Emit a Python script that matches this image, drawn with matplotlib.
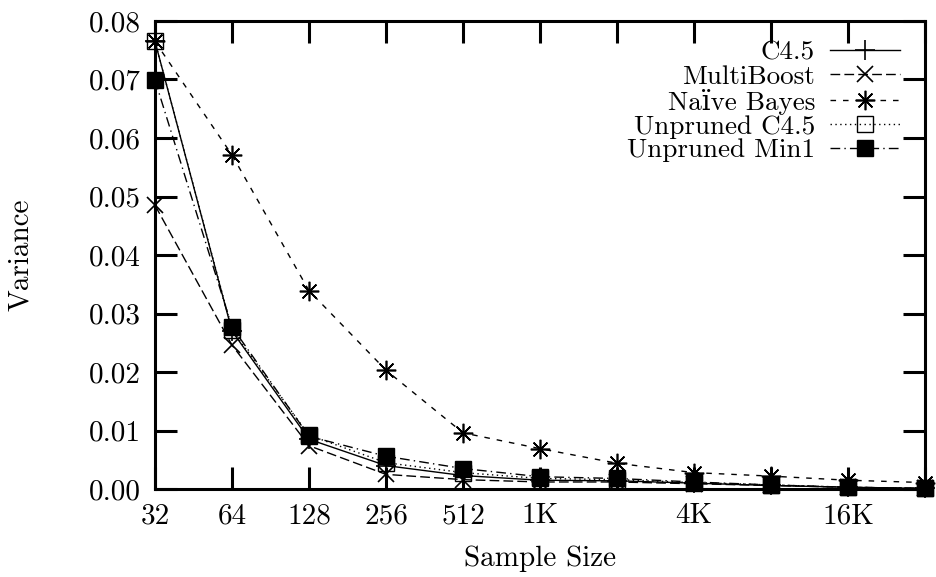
import matplotlib
matplotlib.use("Agg")
import matplotlib.pyplot as plt
from matplotlib.ticker import FixedLocator, FixedFormatter, FormatStrFormatter

sizes = [32, 64, 128, 256, 512, 1024, 2048, 4096, 8192, 16384, 32768]
tick_labels = ['32', '64', '128', '256', '512', '1K', '', '4K', '', '16K', '']

c45 = [0.0765, 0.0270, 0.0085, 0.0040, 0.0023, 0.0015, 0.0014, 0.0010, 0.0006, 0.0003, 0.0001]
multiboost = [0.0485, 0.0246, 0.0074, 0.0025, 0.0016, 0.0012, 0.0012, 0.0009, 0.0006, 0.0003, 0.0001]
naive_bayes = [0.0765, 0.0571, 0.0339, 0.0203, 0.0096, 0.0069, 0.0044, 0.0028, 0.0022, 0.0015, 0.0011]
unpruned_c45 = [0.0765, 0.0272, 0.0092, 0.0045, 0.0028, 0.0018, 0.0016, 0.0011, 0.0007, 0.0003, 0.0001]
unpruned_min1 = [0.0699, 0.0277, 0.0090, 0.0056, 0.0035, 0.0021, 0.0018, 0.0012, 0.0007, 0.0003, 0.0001]

plt.rcParams['font.family'] = ['cmr10', 'DejaVu Serif']
plt.rcParams['axes.formatter.use_mathtext'] = True
FS = 21
LFS = 19.5

fig = plt.figure(figsize=(9.37, 5.77), dpi=100)
ax = fig.add_axes([155/937, 1-489/577, (925-155)/937, (489-21)/577])

common = dict(color='black', linewidth=1.0, clip_on=False)
ax.plot(sizes, c45, label='C4.5', linestyle='-', marker='+', markersize=14, markeredgewidth=1.2, **common)
ax.plot(sizes, multiboost, label='MultiBoost', linestyle=(0, (7, 3)), marker='x', markersize=11, markeredgewidth=1.2, **common)
ax.plot(sizes, naive_bayes, label='Naïve Bayes', linestyle=(0, (4, 5)), marker=(8, 2, 0), markersize=14, markeredgewidth=1.2, **common)
ax.plot(sizes, unpruned_c45, label='Unpruned C4.5', linestyle=(0, (1, 2.5)), marker='s', markersize=11, markerfacecolor='none', markeredgewidth=1.0, **common)
ax.plot(sizes, unpruned_min1, label='Unpruned Min1', linestyle=(0, (7, 3, 1, 3)), marker='s', markersize=12, markerfacecolor='black', **common)

ax.set_xscale('log', base=2)
ax.set_xlim(32, 32768)
ax.set_ylim(0, 0.08)
ax.xaxis.set_major_locator(FixedLocator(sizes))
ax.xaxis.set_major_formatter(FixedFormatter(tick_labels))
ax.xaxis.set_minor_locator(FixedLocator([]))
ax.set_yticks([i * 0.01 for i in range(9)])
ax.yaxis.set_major_formatter(FormatStrFormatter('%.2f'))

for s in ax.spines.values():
    s.set_linewidth(2.2)
ax.tick_params(axis='both', which='major', direction='in', length=16, width=2.2,
               top=True, right=True, labelsize=FS, pad=10)

ax.set_xlabel('Sample Size', fontsize=FS, labelpad=12)
ax.set_ylabel('Variance', fontsize=FS)
ax.yaxis.set_label_coords(-0.157, 0.5)

leg = ax.legend(loc='upper right', bbox_to_anchor=(0.968, 0.958), frameon=False,
                markerfirst=False, fontsize=LFS, handlelength=2.6, handletextpad=0.55,
                labelspacing=0.0, borderpad=0, borderaxespad=0)

fig.savefig('out.png', dpi=100)
